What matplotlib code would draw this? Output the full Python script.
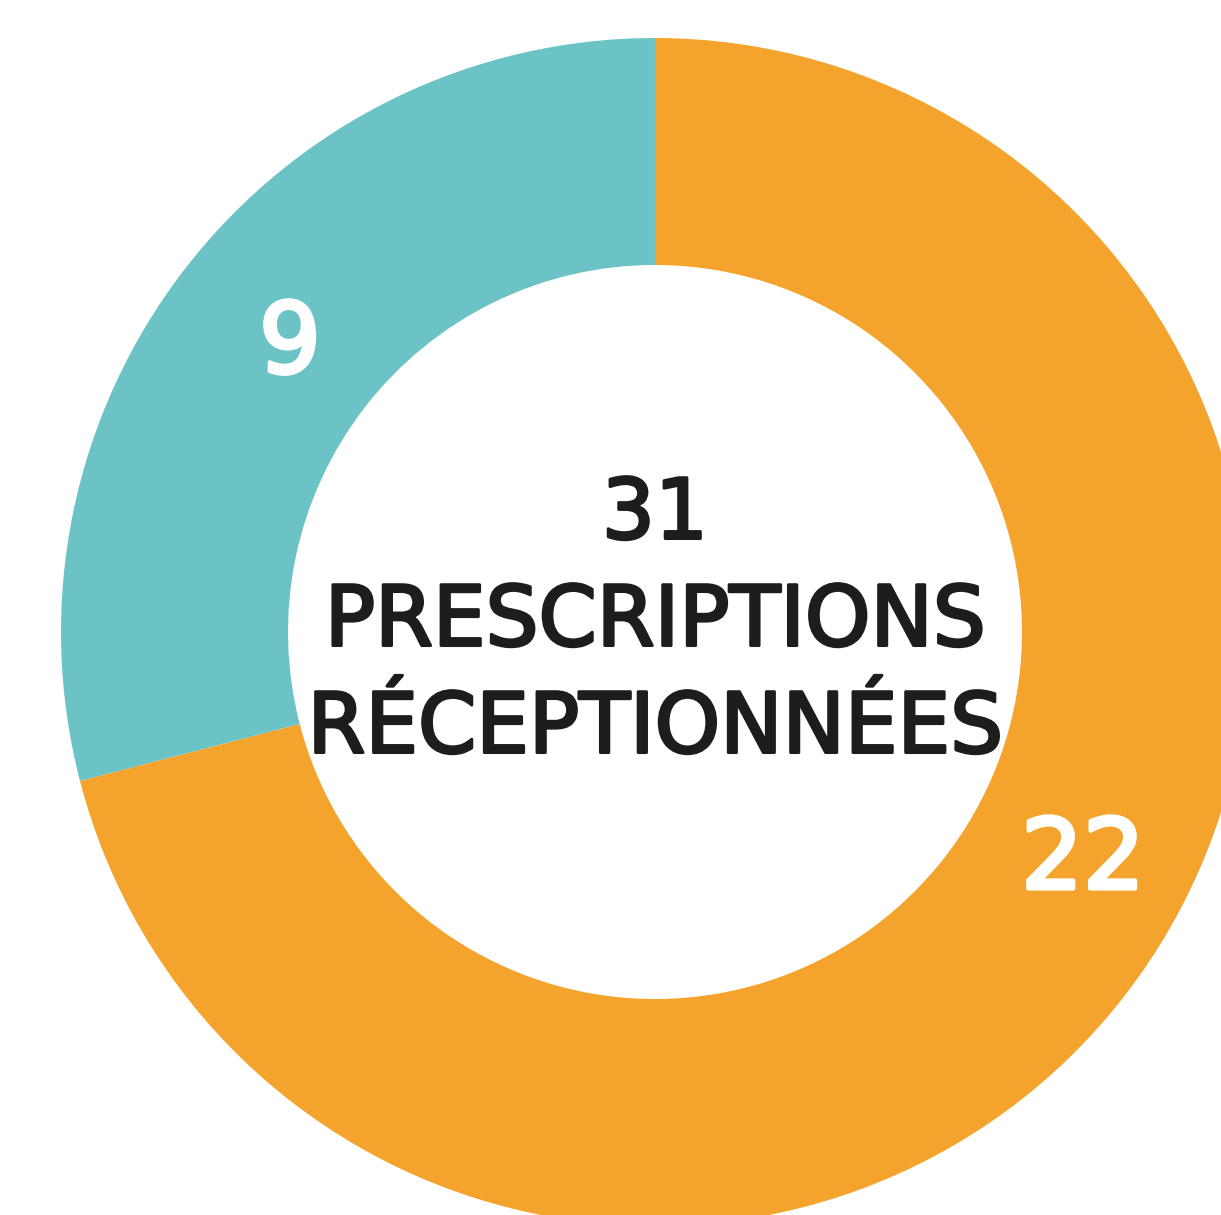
import matplotlib
matplotlib.use('Agg')
import matplotlib.pyplot as plt
import matplotlib.patheffects as pe

labels = ['22', '9']
values = [22, 9]
colors = ['#F4A42C', '#6CC3C5']
center_lines = ['31', 'PRESCRIPTIONS', 'RÉCEPTIONNÉES']

fig = plt.figure(figsize=(12.21, 12.15), dpi=100)
ax = fig.add_axes([0, 0, 1, 1])

cx, cy = 655, 1215 - 632
r_out = 594
width = 594 - 367

wedges, _ = ax.pie(values, colors=colors, startangle=90, counterclock=False,
                   radius=r_out, center=(cx, cy), frame=True,
                   wedgeprops=dict(width=width, linewidth=0))
ax.set_xlim(0, 1221)
ax.set_ylim(0, 1215)
ax.set_aspect('equal')
ax.axis('off')

def thick(c, lw):
    return [pe.withStroke(linewidth=lw, foreground=c, joinstyle='round', capstyle='round')]

# value labels
ax.text(290, 1215 - 346, labels[1], color='white', fontsize=70,
        family='DejaVu Sans', ha='center', va='center', path_effects=thick('white', 3))
ax.text(1083, 1215 - 862, labels[0], color='white', fontsize=70,
        family='DejaVu Sans', ha='center', va='center', path_effects=thick('white', 3))

# centre text
dark = '#1d1d1b'
ys = [515, 622, 729]
for t, y in zip(center_lines, ys):
    ax.text(cx, 1215 - y, t, color=dark, fontsize=60,
            family='DejaVu Sans', ha='center', va='center', path_effects=thick(dark, 2.2))

fig.savefig('out.png', dpi=100)
